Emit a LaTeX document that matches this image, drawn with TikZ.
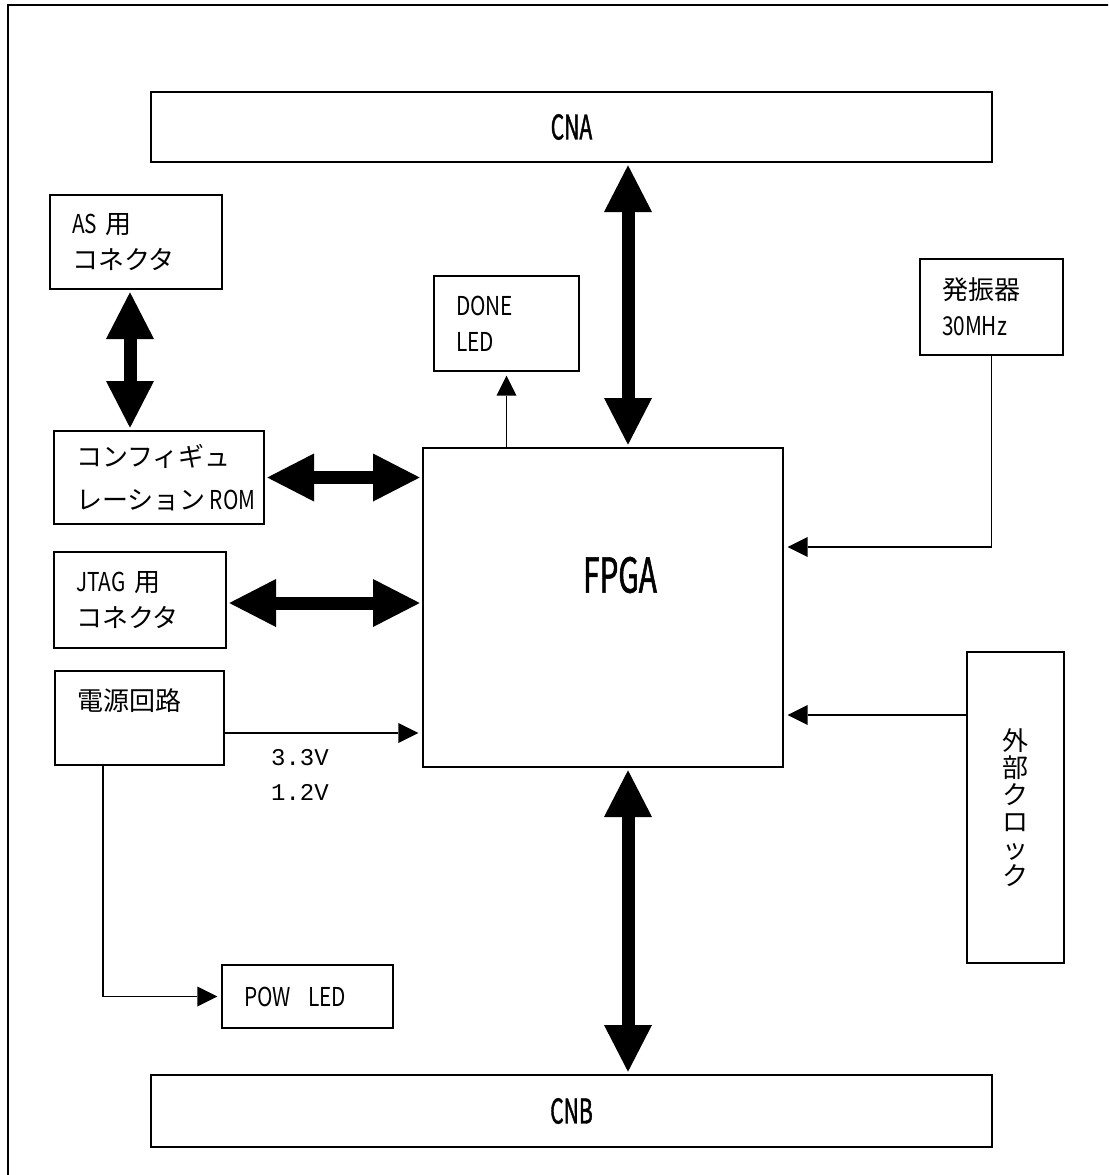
\documentclass[tikz,border=0pt]{standalone}
\usepackage{fontspec}
\setmainfont{Noto Sans CJK JP}
\newfontfamily\latfont{Noto Sans CJK JP}[FakeStretch=0.8]
\newfontfamily\condfont{Noto Sans CJK JP}[FakeStretch=0.62,FakeBold=1.2]
\newfontfamily\voltfont{Liberation Mono}
\usetikzlibrary{arrows.meta,calc}

\tikzset{every picture/.style={line width=1pt}}
\tikzset{
  blk/.style={draw, inner xsep=16.5pt, inner ysep=0pt, align=left, font=\fontsize{19.5}{27}\selectfont},
  busbox/.style={draw, minimum width=630.75pt, inner sep=0pt, font=\condfont\fontsize{25.5}{30}\selectfont},
  bus/.style={line width=9.75pt, shorten >=2pt, shorten <=2pt,
    {Triangle[length=35pt,width=36pt,line width=0pt]}-{Triangle[length=35pt,width=36pt,line width=0pt]}},
  sig/.style={shorten >=3pt, -{Triangle[length=15pt,width=15pt,line width=0pt]}},
}

\begin{document}
\begin{tikzpicture}[x=0.75pt,y=0.75pt,yscale=-1,xscale=1]
\useasboundingbox (0,0) rectangle (1108,1175);
\clip (0,0) rectangle (1108,1175);

%Shape: Frame
\draw[line width=1.5pt] (8,5) rectangle (1130,1200);

%Shape: Connector boxes
\node[busbox, minimum height=52.5pt] (cna) at (571.5,127) {CNA};
\node[busbox, minimum height=54pt] (cnb) at (571.5,1111) {CNB};

%Shape: FPGA
\node[draw, minimum width=270pt, minimum height=239.25pt] (fpga) at (603,607.5) {};
% Text Node
\node[font=\condfont\fontsize{36}{40}\selectfont] (fpgalbl) at (620,575) {FPGA};

%Shape: Left blocks
\node[blk, text width=96pt, minimum height=70.5pt] (asconn) at (136,242) {{\latfont AS} 用\\コネクタ};
\node[blk, text width=124.5pt, minimum height=69.75pt] (romconn) at (159,477.5) {コンフィギュ\\[5pt]\mbox{レーション\,{\latfont ROM}}};
\node[blk, text width=96pt, minimum height=72pt] (jtag) at (140,600) {{\latfont JTAG} 用\\コネクタ};
\node[blk, text width=93.75pt, minimum height=70.5pt] (power) at (139.5,718) {電源回路\\\mbox{}};
\node[blk, text width=95.25pt, minimum height=47.25pt] (powled) at (307.5,996.5) {{\latfont POW\ \ LED}};

%Shape: Upper and right blocks
\node[blk, text width=75.75pt, minimum height=71.25pt] (done) at (506.5,323.5) {{\latfont DONE}\\{\latfont LED}};
\node[blk, text width=74.25pt, minimum height=72pt] (osc) at (991.5,307) {発振器\\{\latfont 30MHz}};
\node[draw, minimum width=72.75pt, minimum height=233.25pt, align=center, font=\fontsize{19.5}{20.25}\selectfont] (extclk) at (1015.5,807.5) {外\\部\\ク\\ロ\\ッ\\ク};

% Text Node
\node[font=\voltfont\fontsize{18}{26}\selectfont, align=center] (volt) at (300,775) {3.3V\\1.2V};

%Straight Lines: buses
\coordinate (asbus) at ($(asconn.south)+(-6,0)$);
\draw[bus] (asbus) -- (asbus |- romconn.north);
\draw[bus] (romconn.east) -- (romconn.east -| fpga.west);
\coordinate (jtagbus) at ($(jtag.east)+(0,3)$);
\draw[bus] (jtagbus) -- (jtagbus -| fpga.west);
\coordinate (cnabus) at ($(fpga.north)+(25,0)$);
\draw[bus] (cnabus |- cna.south) -- (cnabus);
\coordinate (cnbbus) at ($(fpga.south)+(25,0)$);
\draw[bus] (cnbbus) -- (cnbbus |- cnb.north);

%Straight Lines: signals
\draw[sig] (done.south |- fpga.north) -- (done.south);
\coordinate (pwrout) at ($(power.east)+(0,15)$);
\draw[sig] (pwrout) -- (pwrout -| fpga.west);
\coordinate (pwrled) at ($(power.south)+(-36.5,0)$);
\draw[sig] (pwrled) |- (powled.west);
\draw[sig] (osc.south) |- ($(fpga.east)+(0,-60.5)$);
\coordinate (extout) at ($(extclk.west)+(0,-92.5)$);
\draw[sig] (extout) -- (extout -| fpga.east);

\end{tikzpicture}
\end{document}
